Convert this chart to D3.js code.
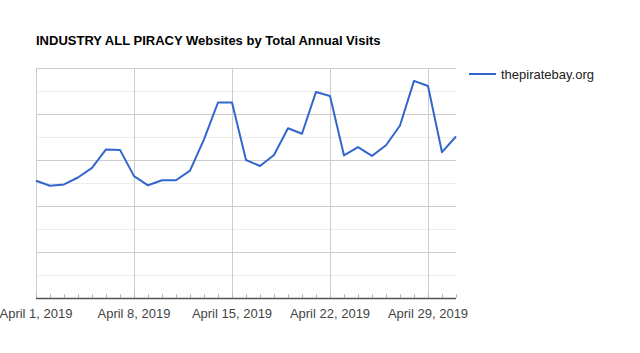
<!DOCTYPE html>
<html>
<head>
<meta charset="utf-8">
<script src="https://cdn.jsdelivr.net/npm/d3@7"></script>
<style>
  body { margin: 0; background: #fff; }
  svg { display: block; font-family: "Liberation Sans", Arial, sans-serif; }
</style>
</head>
<body>
<div id="chart"></div>
<script>
// chart data
var title = "INDUSTRY ALL PIRACY Websites by Total Annual Visits";
var seriesName = "thepiratebay.org";
var dates = [
  "2019-04-01", "2019-04-02", "2019-04-03", "2019-04-04", "2019-04-05", "2019-04-06", "2019-04-07",
  "2019-04-08", "2019-04-09", "2019-04-10", "2019-04-11", "2019-04-12", "2019-04-13", "2019-04-14",
  "2019-04-15", "2019-04-16", "2019-04-17", "2019-04-18", "2019-04-19", "2019-04-20", "2019-04-21",
  "2019-04-22", "2019-04-23", "2019-04-24", "2019-04-25", "2019-04-26", "2019-04-27", "2019-04-28",
  "2019-04-29", "2019-04-30", "2019-05-01"
];
var visits = [
  25.5, 24.4, 24.7, 26.2, 28.3, 32.3, 32.2,
  26.5, 24.5, 25.6, 25.6, 27.7, 34.5, 42.5,
  42.5, 30.0, 28.7, 31.1, 36.9, 35.7, 44.8,
  43.9, 31.0, 32.8, 30.9, 33.2, 37.5, 47.2,
  46.1, 31.7, 35.1
];
var tickDates = ["2019-04-01", "2019-04-08", "2019-04-15", "2019-04-22", "2019-04-29"];

var width = 640, height = 353;
var margin = { top: 68, right: 184, bottom: 55, left: 36 };
var parse = d3.timeParse("%Y-%m-%d");
var fmt = d3.timeFormat("%B %-d, %Y");

var data = dates.map(function (d, i) {
  return { date: parse(d), value: visits[i] };
});

var x = d3.scaleTime()
  .domain([parse(dates[0]), parse(dates[dates.length - 1])])
  .range([margin.left, width - margin.right]);

var y = d3.scaleLinear()
  .domain([0, 50])
  .range([height - margin.bottom, margin.top]);

var svg = d3.select("#chart").append("svg")
  .attr("width", width)
  .attr("height", height);

// title
svg.append("text")
  .attr("x", margin.left)
  .attr("y", 45)
  .attr("font-size", 13)
  .attr("font-weight", "bold")
  .attr("fill", "#000")
  .text(title);

// minor gridlines
svg.append("g")
  .selectAll("line")
  .data(d3.range(5, 50, 10))
  .enter().append("line")
  .attr("x1", margin.left)
  .attr("x2", width - margin.right)
  .attr("y1", function (d) { return y(d) + 0.5; })
  .attr("y2", function (d) { return y(d) + 0.5; })
  .attr("stroke", "#ececec");

// major gridlines
svg.append("g")
  .selectAll("line")
  .data(y.ticks(5))
  .enter().append("line")
  .attr("x1", margin.left)
  .attr("x2", width - margin.right)
  .attr("y1", function (d) { return Math.round(y(d)) + 0.5; })
  .attr("y2", function (d) { return Math.round(y(d)) + 0.5; })
  .attr("stroke", "#cccccc");

// vertical gridlines at weekly ticks
svg.append("g")
  .selectAll("line")
  .data(tickDates.map(parse))
  .enter().append("line")
  .attr("x1", function (d) { return Math.round(x(d)) + 0.5; })
  .attr("x2", function (d) { return Math.round(x(d)) + 0.5; })
  .attr("y1", margin.top)
  .attr("y2", height - margin.bottom)
  .attr("stroke", "#cccccc");

// daily small ticks above axis
svg.append("g")
  .selectAll("line")
  .data(data)
  .enter().append("line")
  .attr("x1", function (d) { return Math.round(x(d.date)) + 0.5; })
  .attr("x2", function (d) { return Math.round(x(d.date)) + 0.5; })
  .attr("y1", height - margin.bottom - 4)
  .attr("y2", height - margin.bottom)
  .attr("stroke", "#bbbbbb");

// x axis line
svg.append("line")
  .attr("x1", margin.left)
  .attr("x2", width - margin.right)
  .attr("y1", height - margin.bottom + 0.5)
  .attr("y2", height - margin.bottom + 0.5)
  .attr("stroke", "#555")
  .attr("stroke-width", 1.3);

// x tick labels
svg.append("g")
  .selectAll("text")
  .data(tickDates.map(parse))
  .enter().append("text")
  .attr("x", function (d) { return x(d); })
  .attr("y", 318)
  .attr("text-anchor", "middle")
  .attr("font-size", 13)
  .attr("fill", "#444")
  .text(function (d) { return fmt(d); });

// series line
var line = d3.line()
  .x(function (d) { return x(d.date); })
  .y(function (d) { return y(d.value); });

svg.append("path")
  .datum(data)
  .attr("d", line)
  .attr("fill", "none")
  .attr("stroke", "#3366cc")
  .attr("stroke-width", 2)
  .attr("stroke-linejoin", "round");

// legend
var legend = svg.append("g").attr("transform", "translate(469,74)");
legend.append("line")
  .attr("x1", 0).attr("x2", 27)
  .attr("y1", 0).attr("y2", 0)
  .attr("stroke", "#3366cc")
  .attr("stroke-width", 2);
legend.append("text")
  .attr("x", 32)
  .attr("y", 4.5)
  .attr("font-size", 13)
  .attr("fill", "#222")
  .text(seriesName);
</script>
</body>
</html>
